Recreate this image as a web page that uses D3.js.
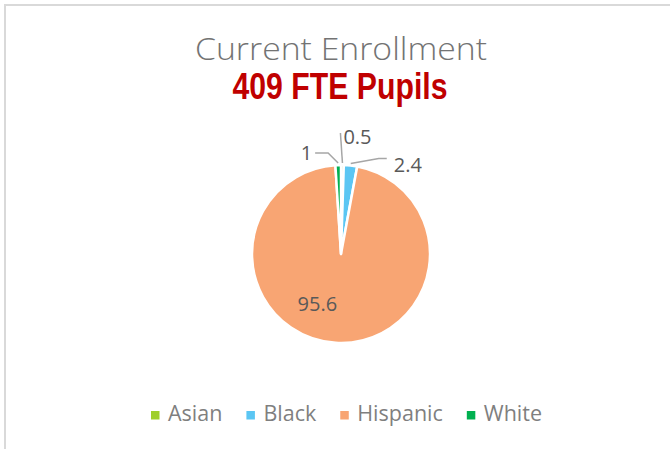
<!DOCTYPE html>
<html>
<head>
<meta charset="utf-8">
<script src="https://cdn.jsdelivr.net/npm/d3@7"></script>
<style>
  body { margin: 0; background: #fff; }
  svg { display: block; }
</style>
</head>
<body>
<div id="chart"></div>
<script>
// chart data
var categories = ['Asian', 'Black', 'Hispanic', 'White'],
    values = [0.5, 2.4, 95.6, 1],
    colors = ['#9fcf2c', '#5bc6f3', '#f8a573', '#00b050'];

var titleText = 'Current Enrollment',
    subtitleText = '409 FTE Pupils';

var width = 670,
    height = 449,
    cx = 341,
    cy = 254,
    radius = 89;

var svg = d3.select('#chart')
  .append('svg')
    .attr('width', width)
    .attr('height', height);

// chart frame (right and bottom run off the picture)
svg.append('rect')
  .attr('x', 5)
  .attr('y', 5)
  .attr('width', 700)
  .attr('height', 500)
  .style('fill', 'none')
  .style('stroke', '#d9d9d9')
  .style('stroke-width', 2);

svg.append('text')
  .attr('x', cx)
  .attr('y', 60)
  .attr('text-anchor', 'middle')
  .attr('textLength', 292)
  .attr('lengthAdjust', 'spacingAndGlyphs')
  .style('font-family', '"Open Sans", sans-serif')
  .style('font-weight', 300)
  .style('font-size', '32px')
  .style('fill', '#737373')
  .text(titleText);

svg.append('text')
  .attr('x', 340)
  .attr('y', 99)
  .attr('text-anchor', 'middle')
  .attr('textLength', 215)
  .attr('lengthAdjust', 'spacingAndGlyphs')
  .style('font-family', '"Liberation Sans Narrow", "Arial Narrow", "Liberation Sans", sans-serif')
  .style('font-weight', 'bold')
  .style('font-size', '37px')
  .style('fill', '#c00000')
  .text(subtitleText);

var pie = d3.pie().sort(null).value(function(d) { return d; });
var arcs = pie(values);

var arc = d3.arc().innerRadius(0).outerRadius(radius);

var g = svg.append('g').attr('transform', 'translate(' + cx + ',' + cy + ')');

g.selectAll('path')
  .data(arcs)
  .enter()
    .append('path')
      .attr('d', arc)
      .style('fill', function(d, i) { return colors[i]; })
      .style('stroke', '#fff')
      .style('stroke-width', 2.5)
      .style('stroke-linejoin', 'round');

// labels: small slices get leader lines, big one sits inside
function edgePoint(d, r) {
  var a = (d.startAngle + d.endAngle) / 2;
  return [r * Math.sin(a), -r * Math.cos(a)];
}

// offsets (relative to slice edge, or centroid for inside label)
var labelLayout = [
  {pts: [[-2, -30]], lx: 1, ly: -26, anchor: 'start'},
  {pts: [[28, -5], [36, -5]], lx: 43, ly: 1, anchor: 'start'},
  {pts: null, lx: -21, ly: 6, anchor: 'middle'},
  {pts: [[-10, -10], [-23, -10]], lx: -26, ly: -10, anchor: 'end'}
];

var labelFont = '"Open Sans", sans-serif';

arcs.forEach(function(d, i) {
  var lay = labelLayout[i];
  var p0 = lay.pts ? edgePoint(d, radius + 2) : arc.centroid(d);
  if (lay.pts) {
    var line = [p0].concat(lay.pts.map(function(p) { return [p0[0] + p[0], p0[1] + p[1]]; }));
    g.append('path')
      .attr('d', d3.line()(line))
      .style('fill', 'none')
      .style('stroke', '#a6a6a6')
      .style('stroke-width', 1.5);
  }
  g.append('text')
    .attr('x', p0[0] + lay.lx)
    .attr('y', p0[1] + lay.ly)
    .attr('dy', '0.35em')
    .attr('text-anchor', lay.anchor)
    .style('font-family', labelFont)
    .style('font-size', '20px')
    .style('fill', '#595959')
    .text(values[i]);
});

// legend, laid out left to right by text width
var legend = svg.selectAll('.legend')
  .data(categories)
  .enter()
    .append('g')
      .attr('class', 'legend');
legend.append('rect')
  .attr('width', 8.5)
  .attr('height', 8.5)
  .style('fill', function(d, i) { return colors[i]; });
legend.append('text')
  .attr('x', 17)
  .attr('y', 10)
  .style('font-family', labelFont)
  .style('font-size', '21.5px')
  .style('fill', '#7f7f7f')
  .text(function(d) { return d; });

var lx = 151;
legend.each(function() {
  var item = d3.select(this);
  item.attr('transform', 'translate(' + lx + ',411)');
  lx += 17 + item.select('text').node().getComputedTextLength() + 24;
});
</script>
</body>
</html>
